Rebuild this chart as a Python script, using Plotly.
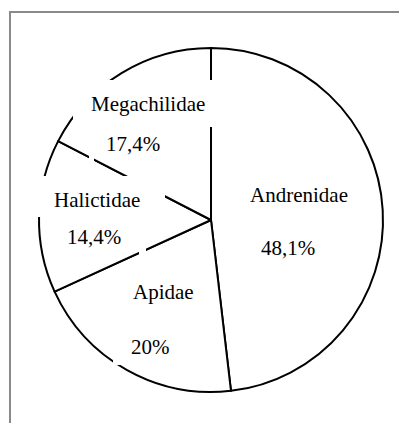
import plotly.graph_objects as go

# Data
families = ["Andrenidae", "Apidae", "Halictidae", "Megachilidae"]
shares = [48.1, 20.0, 14.4, 17.4]
share_labels = ["48,1%", "20%", "14,4%", "17,4%"]

OFF = 8  # page body margin
W, H = 407 - OFF, 423 - OFF


def px(x):
    return (x - OFF) / W


def py(y):
    return 1 - (y - OFF) / H


cx, cy, r = 211, 220, 172

fig = go.Figure(go.Pie(
    labels=families,
    values=shares,
    sort=False,
    direction="clockwise",
    rotation=0,
    textinfo="none",
    hoverinfo="label+percent",
    showlegend=False,
    marker=dict(colors=["white"] * 4, line=dict(color="black", width=2)),
    domain=dict(x=[px(cx - r), px(cx + r)], y=[py(cy + r), py(cy - r)]),
))

# white boxes behind the labels (as in the original text boxes)
masks = [
    (73, 80, 214, 127),
    (89, 154, 94, 165),
    (30, 176, 165, 217),
    (139, 246, 146, 260),
    (113, 330, 185, 365),
]
shapes = []
for x0, y0, x1, y1 in masks:
    shapes.append(dict(type="rect", xref="paper", yref="paper",
                       x0=px(x0), x1=px(x1), y0=py(y1), y1=py(y0),
                       fillcolor="white", line=dict(width=0), layer="above"))
# frame
shapes.append(dict(type="rect", xref="paper", yref="paper",
                   x0=px(10), x1=px(440), y0=py(460), y1=py(12),
                   fillcolor="rgba(0,0,0,0)",
                   line=dict(color="#8a8a8a", width=2), layer="above"))

# label positions (pixel centers)
name_pos = {"Andrenidae": (299, 195), "Apidae": (163, 292),
            "Halictidae": (97, 200), "Megachilidae": (148, 104)}
pct_pos = {"Andrenidae": (288, 248), "Apidae": (150, 347),
           "Halictidae": (94, 237), "Megachilidae": (133, 144)}

annotations = []
for fam, lab in zip(families, share_labels):
    for text, (x, y) in ((fam, name_pos[fam]), (lab, pct_pos[fam])):
        annotations.append(dict(text=text, x=px(x), y=py(y), xref="paper", yref="paper",
                                xanchor="center", yanchor="middle", showarrow=False,
                                font=dict(family="Liberation Serif", size=21, color="black")))

fig.update_layout(
    width=W, height=H,
    margin=dict(l=0, r=0, t=0, b=0),
    paper_bgcolor="white",
    plot_bgcolor="white",
    shapes=shapes,
    annotations=annotations,
)

fig.write_html("out.html")
